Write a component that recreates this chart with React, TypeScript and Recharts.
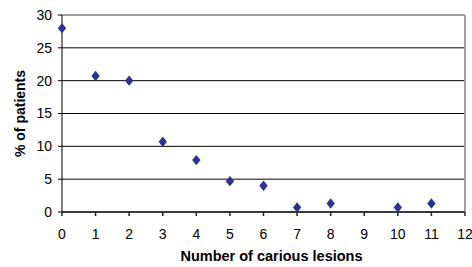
import React from 'react';
import { ScatterChart, Scatter, XAxis, YAxis, CartesianGrid, ReferenceLine, Label } from 'recharts';

const lesionCounts = [0, 1, 2, 3, 4, 5, 6, 7, 8, 10, 11];
const patientPercents = [28.0, 20.7, 20.0, 10.7, 7.9, 4.7, 4.0, 0.7, 1.3, 0.7, 1.3];
const xTicks = [0, 1, 2, 3, 4, 5, 6, 7, 8, 9, 10, 11, 12];
const yTicks = [0, 5, 10, 15, 20, 25, 30];

const data = lesionCounts.map((x, i) => ({ x, y: patientPercents[i] }));

const Diamond = (props: any) => {
  const { cx, cy } = props;
  if (cx == null || cy == null) return null;
  const w = 4.2;
  const h = 5.2;
  return (
    <polygon
      points={`${cx},${cy - h} ${cx + w},${cy} ${cx},${cy + h} ${cx - w},${cy}`}
      fill="#2E3192"
    />
  );
};

const font = 'Arial, "Liberation Sans", sans-serif';

export default function App() {
  return (
    <div style={{ position: 'absolute', left: 0, top: 0, width: 472, height: 267, background: '#fff' }}>
      <ScatterChart width={472} height={267} margin={{ top: 15, right: 7, left: 0, bottom: 0 }}>
        <CartesianGrid vertical={false} stroke="#000" strokeWidth={1} />
        <XAxis
          type="number"
          dataKey="x"
          domain={[0, 12]}
          ticks={xTicks}
          interval={0}
          height={55}
          tickSize={4}
          tickMargin={13}
          stroke="#222"
          strokeWidth={1.5}
          tick={{ fill: '#000', fontSize: 14, fontFamily: font }}
        >
          <Label
            value="Number of carious lesions"
            position="insideBottom"
            offset={6}
            dx={8}
            style={{ fill: '#000', fontSize: 14.5, fontWeight: 'bold', fontFamily: font }}
          />
        </XAxis>
        <YAxis
          type="number"
          dataKey="y"
          domain={[0, 30]}
          ticks={yTicks}
          interval={0}
          width={62}
          tickSize={4}
          tickMargin={6}
          stroke="#000"
          tick={{ fill: '#000', fontSize: 14, fontFamily: font }}
        >
          <Label
            value="% of patients"
            angle={-90}
            position="center"
            dx={-11}
            style={{ fill: '#000', fontSize: 14, fontWeight: 'bold', fontFamily: font, textAnchor: 'middle' }}
          />
        </YAxis>
        <ReferenceLine y={30} stroke="#a0a0a0" strokeWidth={2} />
        <ReferenceLine x={12} stroke="#a0a0a0" strokeWidth={2} />
        <Scatter data={data} shape={<Diamond />} isAnimationActive={false} />
      </ScatterChart>
    </div>
  );
}
